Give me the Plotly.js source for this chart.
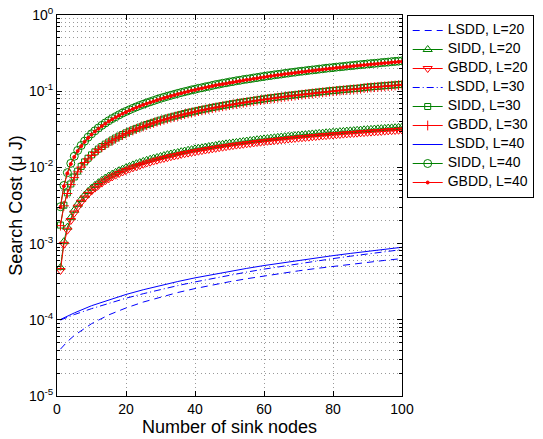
<!DOCTYPE html>
<html>
<head>
<meta charset="utf-8">
<script src="https://cdn.plot.ly/plotly-3.0.1.min.js"></script>
<style>html,body{margin:0;padding:0;background:#fff;}#chart{width:543px;height:439px;}</style>
</head>
<body>
<div id="chart"></div>
<script>
// x values: number of sink nodes (markers at every node count)
const nodes = [1,2,3,4,5,6,7,8,9,10,11,12,13,14,15,16,17,18,19,20,21,22,23,24,25,26,27,28,29,30,31,32,33,34,35,36,37,38,39,40,41,42,43,44,45,46,47,48,49,50,51,52,53,54,55,56,57,58,59,60,61,62,63,64,65,66,67,68,69,70,71,72,73,74,75,76,77,78,79,80,81,82,83,84,85,86,87,88,89,90,91,92,93,94,95,96,97,98,99,100];
// x values for the LSDD lines (no markers)
const lsddNodes = [1,2,3,5,10,15,20,25,30,35,40,45,50,55,60,65,70,75,80,85,90,95,100];

const lsdd20 = [0.0000412,0.0000464,0.0000517,0.0000622,0.0000888,0.000116,0.000143,0.000171,0.000199,0.000228,0.000257,0.000286,0.000316,0.000346,0.000377,0.000408,0.000439,0.000471,0.000503,0.000536,0.000569,0.000602,0.000636];
const lsdd30 = [0.0000992,0.000104,0.000108,0.000117,0.000140,0.000165,0.000192,0.000220,0.000250,0.000281,0.000314,0.000349,0.000385,0.000423,0.000462,0.000503,0.000546,0.000590,0.000636,0.000683,0.000732,0.000783,0.000835];
const lsdd40 = [0.000101,0.000106,0.000112,0.000123,0.000153,0.000183,0.000215,0.000248,0.000283,0.000318,0.000355,0.000393,0.000433,0.000473,0.000515,0.000558,0.000603,0.000648,0.000695,0.000743,0.000793,0.000843,0.000895];

const sidd20 = [0.000484,0.00106,0.00164,0.00219,0.00274,0.00328,0.00380,0.00432,0.00483,0.00533,
0.00582,0.00630,0.00678,0.00725,0.00771,0.00816,0.00861,0.00906,0.00949,0.00992,
0.0103,0.0108,0.0112,0.0116,0.0120,0.0124,0.0128,0.0132,0.0135,0.0139,
0.0143,0.0147,0.0150,0.0154,0.0157,0.0161,0.0164,0.0168,0.0171,0.0175,
0.0178,0.0181,0.0185,0.0188,0.0191,0.0194,0.0198,0.0201,0.0204,0.0207,
0.0210,0.0213,0.0216,0.0219,0.0222,0.0225,0.0228,0.0231,0.0234,0.0237,
0.0239,0.0242,0.0245,0.0248,0.0251,0.0253,0.0256,0.0259,0.0261,0.0264,
0.0267,0.0269,0.0272,0.0275,0.0277,0.0280,0.0282,0.0285,0.0287,0.0290,
0.0292,0.0295,0.0297,0.0300,0.0302,0.0304,0.0307,0.0309,0.0312,0.0314,
0.0316,0.0319,0.0321,0.0323,0.0325,0.0328,0.0330,0.0332,0.0335,0.0337];
const gbdd20 = [0.000444,0.000977,0.00150,0.00201,0.00251,0.00301,0.00349,0.00396,0.00443,0.00489,
0.00534,0.00578,0.00622,0.00665,0.00707,0.00749,0.00790,0.00831,0.00871,0.00910,
0.00949,0.00987,0.0102,0.0106,0.0110,0.0114,0.0117,0.0121,0.0124,0.0128,
0.0131,0.0134,0.0138,0.0141,0.0144,0.0148,0.0151,0.0154,0.0157,0.0160,
0.0163,0.0166,0.0169,0.0172,0.0175,0.0178,0.0181,0.0184,0.0187,0.0190,
0.0193,0.0196,0.0198,0.0201,0.0204,0.0206,0.0209,0.0212,0.0214,0.0217,
0.0220,0.0222,0.0225,0.0227,0.0230,0.0232,0.0235,0.0237,0.0240,0.0242,
0.0245,0.0247,0.0249,0.0252,0.0254,0.0257,0.0259,0.0261,0.0264,0.0266,
0.0268,0.0270,0.0273,0.0275,0.0277,0.0279,0.0281,0.0284,0.0286,0.0288,
0.0290,0.0292,0.0294,0.0296,0.0299,0.0301,0.0303,0.0305,0.0307,0.0309];

const sidd30 = [0.00175,0.00319,0.00463,0.00606,0.00749,0.00892,0.0103,0.0118,0.0132,0.0146,
0.0160,0.0174,0.0188,0.0202,0.0215,0.0229,0.0243,0.0257,0.0270,0.0284,
0.0298,0.0311,0.0325,0.0338,0.0351,0.0365,0.0378,0.0391,0.0405,0.0418,
0.0431,0.0444,0.0457,0.0470,0.0483,0.0496,0.0509,0.0522,0.0534,0.0547,
0.0560,0.0572,0.0585,0.0597,0.0610,0.0622,0.0635,0.0647,0.0659,0.0672,
0.0684,0.0696,0.0708,0.0720,0.0732,0.0744,0.0756,0.0768,0.0780,0.0792,
0.0804,0.0816,0.0827,0.0839,0.0850,0.0862,0.0874,0.0885,0.0896,0.0908,
0.0919,0.0930,0.0942,0.0953,0.0964,0.0975,0.0986,0.0997,0.101,0.102,
0.103,0.104,0.105,0.106,0.107,0.108,0.109,0.110,0.112,0.113,
0.114,0.115,0.116,0.117,0.118,0.119,0.120,0.121,0.122,0.123];
const gbdd30 = [0.00172,0.00313,0.00454,0.00594,0.00734,0.00874,0.0101,0.0116,0.0129,0.0143,
0.0157,0.0171,0.0184,0.0198,0.0211,0.0224,0.0238,0.0252,0.0265,0.0278,
0.0292,0.0305,0.0319,0.0331,0.0344,0.0358,0.0370,0.0383,0.0397,0.0410,
0.0422,0.0435,0.0448,0.0461,0.0473,0.0486,0.0499,0.0512,0.0523,0.0536,
0.0549,0.0561,0.0573,0.0585,0.0598,0.0610,0.0622,0.0634,0.0646,0.0659,
0.0670,0.0682,0.0694,0.0706,0.0717,0.0729,0.0741,0.0753,0.0764,0.0776,
0.0788,0.0800,0.0810,0.0822,0.0833,0.0845,0.0857,0.0867,0.0878,0.0890,
0.0901,0.0911,0.0923,0.0934,0.0945,0.0956,0.0966,0.0977,0.0990,0.100,
0.101,0.102,0.103,0.104,0.105,0.106,0.107,0.108,0.110,0.111,
0.112,0.113,0.114,0.115,0.116,0.117,0.118,0.119,0.120,0.121];

const sidd40 = [0.00305,0.00579,0.00853,0.0113,0.0140,0.0167,0.0194,0.0221,0.0249,0.0276,
0.0302,0.0329,0.0356,0.0383,0.0410,0.0437,0.0463,0.0490,0.0517,0.0543,
0.0570,0.0596,0.0622,0.0649,0.0675,0.0701,0.0727,0.0753,0.0780,0.0806,
0.0832,0.0857,0.0883,0.0909,0.0935,0.0961,0.0986,0.101,0.104,0.106,
0.109,0.111,0.114,0.116,0.119,0.122,0.124,0.127,0.129,0.132,
0.134,0.137,0.139,0.142,0.144,0.146,0.149,0.151,0.154,0.156,
0.159,0.161,0.164,0.166,0.168,0.171,0.173,0.176,0.178,0.181,
0.183,0.185,0.188,0.190,0.192,0.195,0.197,0.200,0.202,0.204,
0.207,0.209,0.211,0.214,0.216,0.218,0.221,0.223,0.225,0.228,
0.230,0.232,0.234,0.237,0.239,0.241,0.244,0.246,0.248,0.250];
const gbdd40 = [0.00299,0.00567,0.00836,0.0111,0.0137,0.0164,0.0190,0.0217,0.0244,0.0270,
0.0296,0.0322,0.0349,0.0375,0.0402,0.0428,0.0454,0.0480,0.0507,0.0532,
0.0559,0.0584,0.0610,0.0636,0.0662,0.0687,0.0712,0.0738,0.0764,0.0790,
0.0815,0.0840,0.0865,0.0891,0.0916,0.0942,0.0966,0.0990,0.102,0.104,
0.107,0.109,0.112,0.114,0.117,0.120,0.122,0.124,0.126,0.129,
0.131,0.134,0.136,0.139,0.141,0.143,0.146,0.148,0.151,0.153,
0.156,0.158,0.161,0.163,0.165,0.168,0.170,0.172,0.174,0.177,
0.179,0.181,0.184,0.186,0.188,0.191,0.193,0.196,0.198,0.200,
0.203,0.205,0.207,0.210,0.212,0.214,0.217,0.219,0.221,0.223,
0.225,0.227,0.229,0.232,0.234,0.236,0.239,0.241,0.243,0.245];

const seriesNames = ['LSDD, L=20','SIDD, L=20','GBDD, L=20','LSDD, L=30','SIDD, L=30','GBDD, L=30','LSDD, L=40','SIDD, L=40','GBDD, L=40'];
const yTickVals = [1e-5,1e-4,1e-3,1e-2,1e-1,1];
const yTickText = ['10<sup>-5</sup>','10<sup>-4</sup>','10<sup>-3</sup>','10<sup>-2</sup>','10<sup>-1</sup>','10<sup>0</sup>'];
const xTickVals = [0,20,40,60,80,100];

const BLUE='#0000ff', GREEN='#008000', RED='#ff0000';
const legendLabel = n => '<span style="font-size:14px">' + n + '</span>';
function lsdd(name, y, dash){
  return {x:lsddNodes, y:y, name:legendLabel(name), type:'scatter', mode:'lines',
    line:{color:BLUE, width:1, dash:dash}};
}
function mk(name, y, color, symbol, size){
  return {x:nodes, y:y, name:legendLabel(name), type:'scatter', mode:'lines+markers',
    line:{color:color, width:1}, marker:{symbol:symbol, size:size, color:color, line:{color:color, width:1}}};
}
const traces = [
  lsdd(seriesNames[0], lsdd20, '7px,5px'),
  mk(seriesNames[1], sidd20, GREEN, 'triangle-up-open', 8),
  mk(seriesNames[2], gbdd20, RED, 'triangle-down-open', 8),
  lsdd(seriesNames[3], lsdd30, '7px,3px,1px,3px'),
  mk(seriesNames[4], sidd30, GREEN, 'square-open', 6),
  mk(seriesNames[5], gbdd30, RED, 'cross-thin-open', 7),
  lsdd(seriesNames[6], lsdd40, 'solid'),
  mk(seriesNames[7], sidd40, GREEN, 'circle-open', 8),
  mk(seriesNames[8], gbdd40, RED, 'circle', 3)
];

const FONT = 'Liberation Sans, Arial, Helvetica, sans-serif';
const layout = {
  width:543, height:439,
  margin:{l:57, r:141, t:15, b:43, autoexpand:false},
  paper_bgcolor:'#fff', plot_bgcolor:'#fff',
  font:{family:FONT, size:14, color:'#000'},
  showlegend:true,
  legend:{x:1.0136, y:1.0, xanchor:'left', yanchor:'top', bgcolor:'#fff', bordercolor:'#000', borderwidth:1,
    font:{family:FONT, size:10, color:'#000'}, tracegroupgap:0, itemwidth:30},
  xaxis:{range:[0,100], tickmode:'array', tickvals:xTickVals, ticks:'inside', ticklen:5, tickcolor:'#000',
    showline:true, linecolor:'#000', linewidth:1, mirror:'ticks', zeroline:false,
    showgrid:true, gridcolor:'#999', griddash:'1px,3px', gridwidth:1,
    tickfont:{family:FONT, size:14, color:'#000'},
    title:{text:'Number of sink nodes', font:{family:FONT, size:18, color:'#000'}, standoff:3}},
  yaxis:{type:'log', range:[-5,0], tickmode:'array', tickvals:yTickVals, ticktext:yTickText,
    ticks:'inside', ticklen:5, tickcolor:'#000',
    showline:true, linecolor:'#000', linewidth:1, mirror:'ticks', zeroline:false,
    showgrid:true, gridcolor:'#999', griddash:'1px,3px', gridwidth:1,
    minor:{dtick:'D1', ticks:'inside', ticklen:3, tickcolor:'#000', showgrid:true, gridcolor:'#999', griddash:'1px,3px', gridwidth:1},
    tickfont:{family:FONT, size:14, color:'#000'},
    title:{text:'Search Cost (μ J)', font:{family:FONT, size:18, color:'#000'}, standoff:1}}
};
Plotly.newPlot('chart', traces, layout, {displayModeBar:false, staticPlot:true});
</script>
</body>
</html>
